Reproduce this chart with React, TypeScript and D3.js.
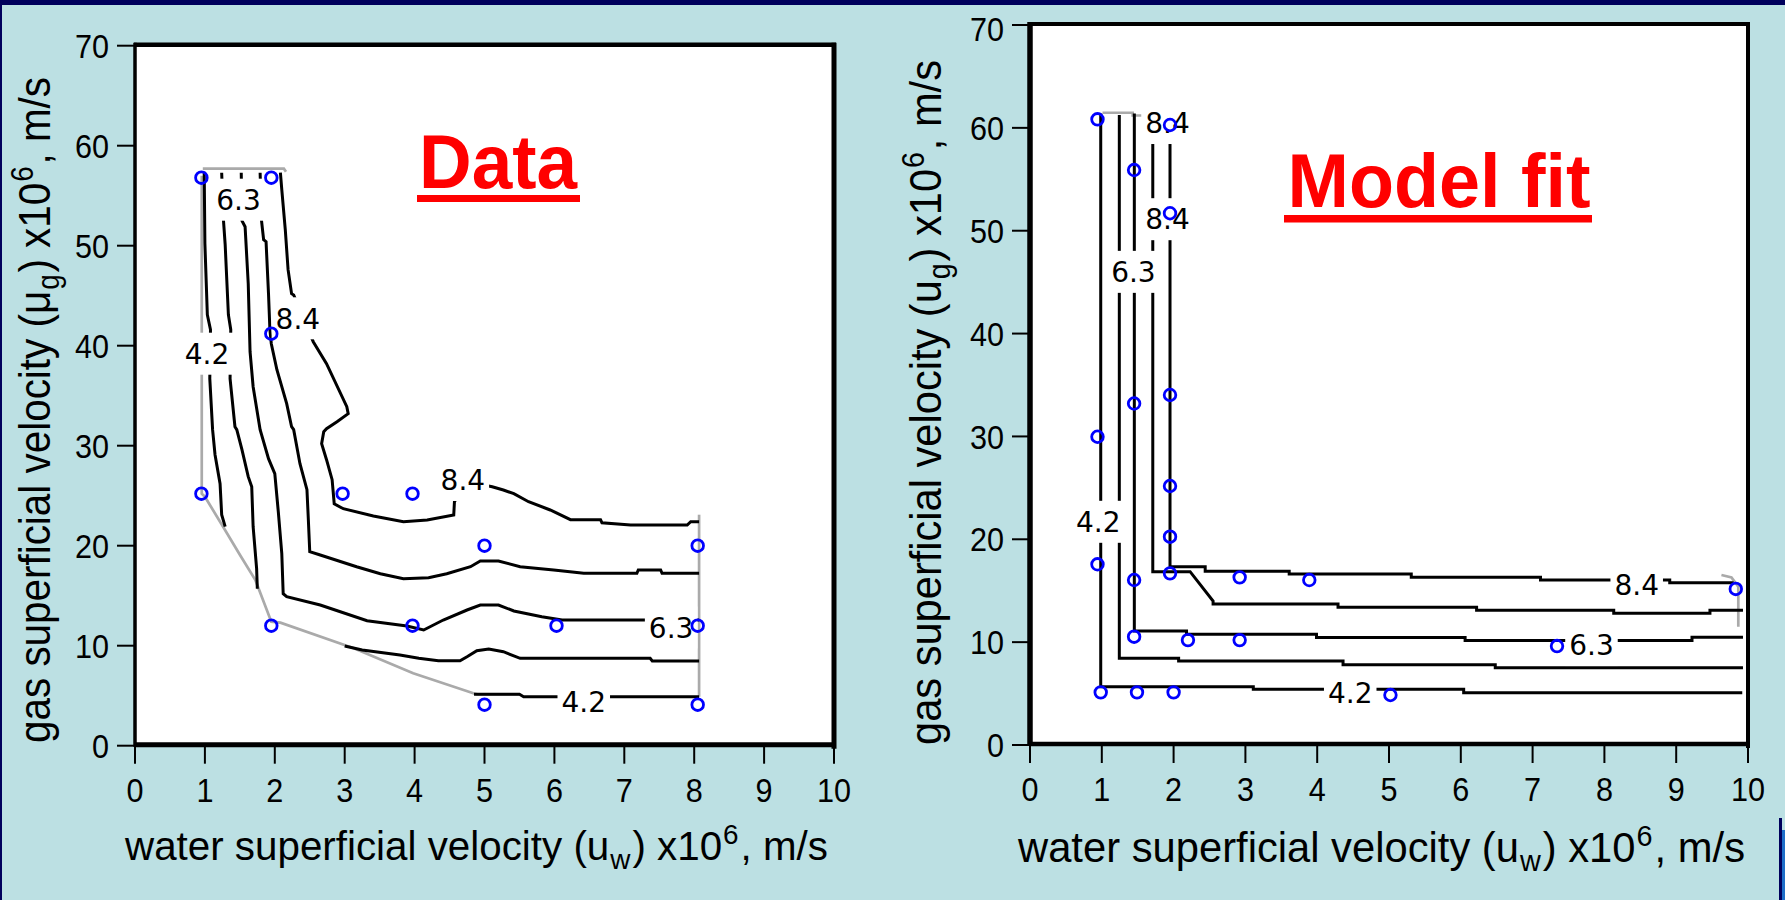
import React from 'react';
import * as d3 from 'd3';

type Pt = [number, number];

// ---------- shared axis ticks ----------
const xTicks: number[] = [0, 1, 2, 3, 4, 5, 6, 7, 8, 9, 10];
const yTicks: number[] = [0, 10, 20, 30, 40, 50, 60, 70];

// ---------- "Data" panel ----------
const dataPoints: Pt[] = [
  [0.95, 56.8], [1.95, 56.8], [1.95, 41.2], [0.95, 25.2], [1.95, 12.0],
  [2.97, 25.2], [3.97, 25.2], [3.97, 12.0], [5.0, 20.0], [8.05, 20.0],
  [6.03, 12.0], [8.05, 12.0], [5.0, 4.1], [8.05, 4.1],
];

const dataHull: Pt[][] = [
  [[0.97, 57.7], [2.13, 57.7], [2.16, 57.4]],
  [[0.955, 57.0], [0.955, 25.2], [1.0, 24.9], [1.26, 21.9], [1.5, 19.1], [1.72, 16.6], [1.95, 12.4],
   [2.08, 12.3], [3.13, 9.74], [3.98, 7.24], [4.84, 5.24], [4.9, 5.14], [5.5, 5.14]],
  [[8.07, 23.1], [8.07, 4.9]],
];

const dataContours: Pt[][] = [
  // 4.2 (upper branch)
  [[0.99, 57.4], [1.0, 50.2], [1.035, 43.1], [1.08, 41.6], [1.07, 36.7], [1.11, 31.6], [1.145, 29.1],
   [1.217, 26.2], [1.24, 23.1], [1.29, 21.9]],
  // 4.2 (lower branch)
  [[4.85, 5.14], [5.5, 5.14], [5.56, 4.9], [8.07, 4.9]],
  // 5.25 (upper branch)
  [[1.24, 57.3], [1.265, 52.6], [1.29, 50.1], [1.336, 43.1], [1.37, 41.6], [1.36, 36.7], [1.43, 31.9],
   [1.456, 31.6], [1.53, 29.6], [1.62, 26.9], [1.67, 25.9], [1.69, 21.9], [1.74, 17.7], [1.75, 15.7]],
  // 5.25 (lower branch)
  [[3.0, 9.97], [3.25, 9.57], [3.79, 9.07], [4.06, 8.74], [4.34, 8.5], [4.65, 8.5], [4.75, 8.9],
   [4.89, 9.5], [5.06, 9.67], [5.27, 9.4], [5.51, 8.74], [7.37, 8.74], [7.4, 8.47], [8.07, 8.47]],
  // 6.3
  [[1.52, 57.3], [1.53, 52.5], [1.575, 51.9], [1.62, 46.2], [1.646, 39.4], [1.69, 35.9], [1.79, 31.6],
   [1.91, 28.7], [2.0, 27.2], [2.05, 23.4], [2.1, 19.2], [2.12, 15.2], [2.17, 14.9], [2.65, 14.07],
   [3.32, 12.5], [3.89, 11.97], [4.13, 11.57], [4.41, 12.57], [4.75, 13.57], [4.94, 14.07], [5.2, 14.07],
   [5.42, 13.47], [5.82, 12.9], [6.11, 12.57], [8.07, 12.57]],
  // 7.35
  [[1.79, 57.3], [1.81, 52.5], [1.84, 50.6], [1.875, 50.4], [1.91, 45.2], [1.93, 41.6], [1.95, 40.2],
   [2.03, 37.6], [2.17, 34.2], [2.24, 31.9], [2.27, 31.6], [2.36, 28.2], [2.46, 25.6], [2.48, 22.6],
   [2.5, 19.4], [2.65, 19.07], [3.17, 17.9], [3.51, 17.2], [3.84, 16.7], [4.2, 16.8], [4.46, 17.2],
   [4.8, 17.9], [4.94, 18.47], [5.2, 18.47], [5.51, 17.9], [5.99, 17.57], [6.42, 17.24], [7.18, 17.24],
   [7.2, 17.57], [7.52, 17.57], [7.54, 17.24], [8.07, 17.24]],
  // 8.4
  [[2.08, 57.3], [2.1, 55.6], [2.15, 51.6], [2.19, 47.6], [2.24, 45.2], [2.27, 45.07], [2.55, 40.4],
   [2.74, 38.2], [3.03, 33.9], [3.05, 33.2], [2.89, 32.4], [2.74, 31.7], [2.7, 31.4], [2.67, 30.2],
   [2.74, 28.6], [2.82, 26.6], [2.85, 24.2], [2.98, 23.7], [3.41, 22.97], [3.84, 22.4], [4.18, 22.57],
   [4.56, 23.07], [4.57, 24.4], [4.75, 26.4], [5.11, 25.9], [5.27, 25.57], [5.42, 25.2], [5.63, 24.4],
   [5.94, 23.57], [6.23, 22.6], [6.66, 22.6], [6.68, 22.3], [7.09, 22.07], [7.9, 22.07], [7.95, 22.4],
   [8.07, 22.4]],
];

const dataLabelText: string[] = ['6.3', '4.2', '8.4', '8.4', '6.3', '4.2'];
const dataLabelPos: Pt[] = [[1.48, 54.6], [1.03, 39.2], [2.33, 42.74], [4.69, 26.57], [7.67, 11.82], [6.42, 4.4]];

// ---------- "Model fit" panel ----------
const fitPoints: Pt[] = [
  [0.94, 60.83], [1.95, 60.28], [1.45, 55.9], [1.95, 51.7], [1.95, 34.03], [1.45, 33.2],
  [0.94, 29.97], [1.95, 25.18], [1.95, 20.25], [0.94, 17.57], [1.45, 16.04], [1.95, 16.69],
  [2.92, 16.3], [3.89, 16.04], [1.45, 10.53], [2.2, 10.2], [2.92, 10.2], [0.985, 5.12],
  [1.49, 5.12], [2.0, 5.12], [9.83, 15.17], [7.34, 9.62], [5.02, 4.86],
];

const fitHull: Pt[][] = [
  [[1.01, 61.47], [1.43, 61.47], [1.43, 61.2], [1.6, 61.2]],
  [[9.63, 16.53], [9.77, 16.3], [9.865, 15.39], [9.865, 11.5]],
];

const fitContours: Pt[][] = [
  // 4.2
  [[0.985, 61.4], [0.985, 5.67], [3.11, 5.67], [3.11, 5.42], [6.04, 5.42], [6.04, 5.09], [9.92, 5.09]],
  // 5.25
  [[1.244, 61.25], [1.244, 8.43], [2.07, 8.43], [2.07, 8.17], [4.36, 8.17], [4.36, 7.8], [6.48, 7.8],
   [6.48, 7.5], [9.93, 7.5]],
  // 6.3
  [[1.453, 61.4], [1.453, 11.08], [2.18, 11.08], [2.18, 10.76], [3.99, 10.76], [3.99, 10.45], [6.06, 10.45],
   [6.06, 10.17], [9.22, 10.17], [9.22, 10.47], [9.93, 10.47]],
  // 7.35
  [[1.71, 61.2], [1.71, 16.85], [2.23, 16.85], [2.55, 14.0], [2.55, 13.71], [4.29, 13.71], [4.29, 13.39],
   [6.22, 13.39], [6.22, 13.09], [8.13, 13.09], [8.13, 12.8], [9.47, 12.8], [9.47, 13.1], [9.93, 13.1]],
  // 8.4
  [[1.95, 61.2], [1.95, 17.33], [2.44, 17.33], [2.44, 16.9], [3.61, 16.9], [3.61, 16.62], [5.31, 16.62],
   [5.31, 16.3], [7.11, 16.3], [7.11, 16.04], [8.91, 16.04], [8.91, 15.78], [9.8, 15.78]],
];

const fitLabelText: string[] = ['8.4', '8.4', '6.3', '4.2', '8.4', '6.3', '4.2'];
const fitLabelPos: Pt[] = [[1.915, 60.47], [1.915, 51.12], [1.44, 46.0], [0.95, 21.7], [8.45, 15.56], [7.82, 9.72], [4.46, 5.03]];

// ---------- styling ----------
const BG = '#BCE0E3';
const NAVY = '#00005C';
const SANS = '"Liberation Sans", Arial, sans-serif';
const LABEL_FONT = '"DejaVu Sans", sans-serif';
const LABEL_FS = 28;
const TICK_FS = 34;
const TICK_SX = 0.9;

interface PanelCfg {
  x0: number; x1: number; y0: number; y1: number;
  points: Pt[]; hull: Pt[][]; contours: Pt[][];
  labelText: string[]; labelPos: Pt[];
  title: string; titleX: number; titleBase: number; titleLen: number;
  ulX0: number; ulX1: number; ulY: number; ulH: number;
  muGlyph: string;
  yTitleX: number; yTitleTop: number; yTitleBottom: number;
  xTitleX0: number; xTitleX1: number; xTitleBase: number; xTitleFs: number;
  minTickLabelY: number;
  frame: { top: number; right: number; bottom: number; left: number };
}

function labelWidth(t: string): number {
  let w = 0;
  for (const c of t) w += c === '.' ? 0.318 : 0.636;
  return w * LABEL_FS;
}

function Panel({ c }: { c: PanelCfg }) {
  const x = d3.scaleLinear().domain([0, 10]).range([c.x0, c.x1]);
  const y = d3.scaleLinear().domain([0, 70]).range([c.y0, c.y1]);
  const line = d3.line<Pt>().x((d) => x(d[0])).y((d) => y(d[1]));
  const yTitleC = (c.yTitleTop + c.yTitleBottom) / 2;
  const yTitleLen = c.yTitleBottom - c.yTitleTop;
  const xTitleC = (c.xTitleX0 + c.xTitleX1) / 2;
  const xTitleLen = c.xTitleX1 - c.xTitleX0;
  const subFs = Math.round(c.xTitleFs * 0.69);
  return (
    <g>
      <rect x={c.x0} y={c.y1} width={c.x1 - c.x0} height={c.y0 - c.y1} fill="#FFFFFF" />
      {c.hull.map((h, i) => (
        <path key={'h' + i} d={line(h) || ''} fill="none" stroke="#AAAAAA" strokeWidth={2.7} />
      ))}
      {c.contours.map((h, i) => (
        <path key={'c' + i} d={line(h) || ''} fill="none" stroke="#000" strokeWidth={3} strokeLinejoin="miter" />
      ))}
      {c.labelText.map((t, i) => {
        const cx = x(c.labelPos[i][0]);
        const cy = y(c.labelPos[i][1]);
        const w = labelWidth(t);
        return (
          <g key={'l' + i}>
            <rect x={cx - w / 2 - 4} y={cy - 21} width={w + 8} height={42} fill="#FFFFFF" />
            <text x={cx} y={cy + 0.365 * LABEL_FS} textAnchor="middle" fontFamily={LABEL_FONT} fontSize={LABEL_FS} fill="#000">
              {t}
            </text>
          </g>
        );
      })}
      {c.points.map((p, i) => (
        <circle key={'p' + i} cx={x(p[0])} cy={y(p[1])} r={5.8} fill="none" stroke="#0000FF" strokeWidth={2.8} />
      ))}
      {/* frame */}
      <line x1={c.x0 - 1} x2={c.x1 + 2} y1={c.y1 - 1} y2={c.y1 - 1} stroke="#000" strokeWidth={c.frame.top} />
      <line x1={c.x1} x2={c.x1} y1={c.y1 - 3} y2={c.y0 + 3} stroke="#000" strokeWidth={c.frame.right} />
      <line x1={c.x0 - 1} x2={c.x1 + 2} y1={c.y0 - 1} y2={c.y0 - 1} stroke="#000" strokeWidth={c.frame.bottom} />
      <line x1={c.x0} x2={c.x0} y1={c.y1 - 3} y2={c.y0 + 1} stroke="#000" strokeWidth={c.frame.left} />
      {/* ticks */}
      {yTicks.map((t) => (
        <g key={'yt' + t}>
          <line x1={c.x0 - 18} x2={c.x0} y1={y(t)} y2={y(t)} stroke="#000" strokeWidth={2} />
          <g transform={`translate(${c.x0 - 26},${Math.max(y(t), c.minTickLabelY) + 0.358 * TICK_FS}) scale(${TICK_SX},1)`}>
            <text x={0} y={0} textAnchor="end" fontFamily={SANS} fontSize={TICK_FS} fill="#000">
              {t}
            </text>
          </g>
        </g>
      ))}
      {xTicks.map((t) => (
        <g key={'xt' + t}>
          <line x1={x(t)} x2={x(t)} y1={c.y0} y2={c.y0 + 18} stroke="#000" strokeWidth={2} />
          <g transform={`translate(${x(t)},${c.y0 + 56}) scale(${TICK_SX},1)`}>
            <text x={0} y={0} textAnchor="middle" fontFamily={SANS} fontSize={TICK_FS} fill="#000">
              {t}
            </text>
          </g>
        </g>
      ))}
      {/* axis titles */}
      <text
        transform={`translate(${c.yTitleX},${yTitleC}) rotate(-90)`}
        textAnchor="middle"
        fontFamily={SANS}
        fontSize={45}
        fill="#000"
        textLength={yTitleLen}
        lengthAdjust="spacingAndGlyphs"
      >
        gas superficial velocity ({c.muGlyph}
        <tspan dy={9} dx={1} fontSize={31}>g</tspan>
        <tspan dy={-9} dx={2}>) x10</tspan>
        <tspan dy={-17} dx={1} fontSize={31}>6</tspan>
        <tspan dy={17} dx={2}>, m/s</tspan>
      </text>
      <text
        x={xTitleC}
        y={c.xTitleBase}
        textAnchor="middle"
        fontFamily={SANS}
        fontSize={c.xTitleFs}
        fill="#000"
        textLength={xTitleLen}
        lengthAdjust="spacingAndGlyphs"
      >
        water superficial velocity (u
        <tspan dy={9} dx={1} fontSize={subFs}>w</tspan>
        <tspan dy={-9} dx={2}>) x10</tspan>
        <tspan dy={-16} dx={1} fontSize={subFs}>6</tspan>
        <tspan dy={16} dx={2}>, m/s</tspan>
      </text>
      {/* panel title */}
      <text
        x={c.titleX}
        y={c.titleBase}
        textAnchor="middle"
        fontFamily={SANS}
        fontWeight="bold"
        fontSize={76}
        fill="#FF0000"
        textLength={c.titleLen}
        lengthAdjust="spacingAndGlyphs"
      >
        {c.title}
      </text>
      <rect x={c.ulX0} y={c.ulY} width={c.ulX1 - c.ulX0} height={c.ulH} fill="#FF0000" />
    </g>
  );
}

const leftPanel: PanelCfg = {
  x0: 135, x1: 834, y0: 745.7, y1: 45.7,
  points: dataPoints, hull: dataHull, contours: dataContours,
  labelText: dataLabelText, labelPos: dataLabelPos,
  title: 'Data', titleX: 498, titleBase: 188, titleLen: 158,
  ulX0: 417, ulX1: 580, ulY: 195, ulH: 7,
  muGlyph: 'μ',
  yTitleX: 50, yTitleTop: 77, yTitleBottom: 743,
  xTitleX0: 125, xTitleX1: 828, xTitleBase: 860, xTitleFs: 40.5,
  minTickLabelY: 0,
  frame: { top: 4.5, right: 5, bottom: 5, left: 3.5 },
};

const rightPanel: PanelCfg = {
  x0: 1030, x1: 1748, y0: 745, y1: 25,
  points: fitPoints, hull: fitHull, contours: fitContours,
  labelText: fitLabelText, labelPos: fitLabelPos,
  title: 'Model fit', titleX: 1439, titleBase: 207, titleLen: 303,
  ulX0: 1284, ulX1: 1592, ulY: 215, ulH: 7.5,
  muGlyph: 'u',
  yTitleX: 941, yTitleTop: 60, yTitleBottom: 745,
  xTitleX0: 1018, xTitleX1: 1745, xTitleBase: 862, xTitleFs: 42,
  minTickLabelY: 29,
  frame: { top: 4, right: 4, bottom: 4.5, left: 5.5 },
};

export default function App() {
  return (
    <svg
      width={1785}
      height={900}
      viewBox="0 0 1785 900"
      style={{ position: 'absolute', left: 0, top: 0, display: 'block' }}
    >
      <rect x={0} y={0} width={1785} height={900} fill={BG} />
      <rect x={0} y={0} width={1785} height={5} fill={NAVY} />
      <rect x={0} y={0} width={2} height={900} fill={NAVY} />
      <rect x={1779} y={818} width={3} height={82} fill={NAVY} />
      <rect x={1782} y={830} width={3} height={70} fill="#1E6EC8" />
      <Panel c={leftPanel} />
      <Panel c={rightPanel} />
    </svg>
  );
}
